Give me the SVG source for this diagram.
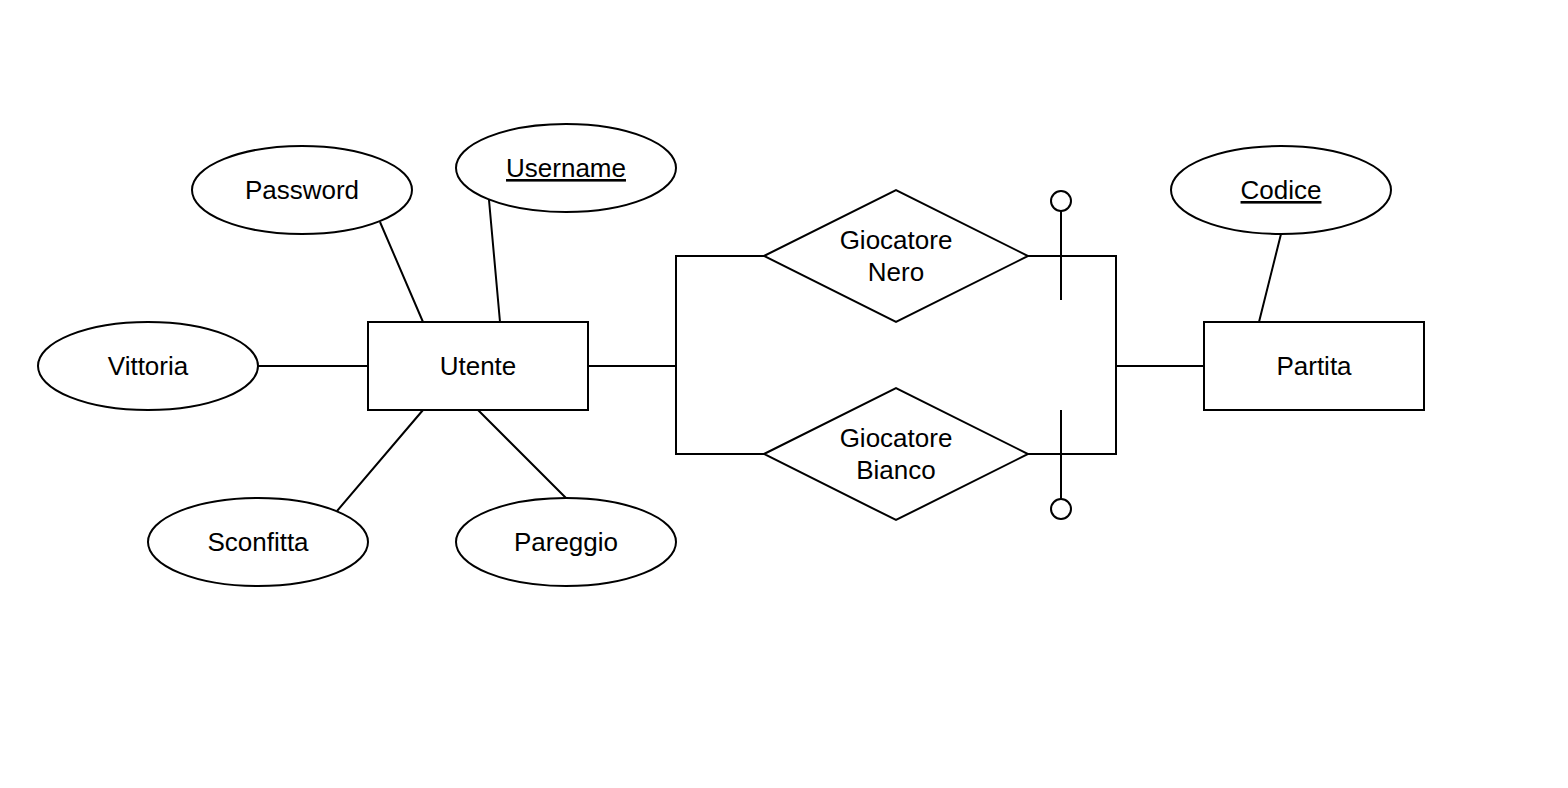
<svg xmlns="http://www.w3.org/2000/svg" width="1568" height="788" viewBox="0 0 1568 788">
<style>
.s{fill:#fff;stroke:#000;stroke-width:2}
.l{fill:none;stroke:#000;stroke-width:2}
text{font-family:"Liberation Sans",Arial,sans-serif;font-size:26px;fill:#000;text-anchor:middle}
.u{text-decoration:underline}
</style>
<rect width="1568" height="788" fill="#fff"/>
<g id="connectors">
<path class="l" d="M380,222 L423,322 M489,200 L500,322 M258,366 L368,366 M337,511 L423,410 M566,498 L478,410 M1281,234 L1259,322"/>
<path class="l" d="M588,366 H676 M764,256 H676 V454 H764"/>
<path class="l" d="M1028,256 H1116 V454 H1028 M1116,366 H1204"/>
<path class="l" d="M1061,211 V300 M1061,410 V499"/>
<circle class="s" cx="1061" cy="201" r="10"/>
<circle class="s" cx="1061" cy="509" r="10"/>
</g>
<g id="utente"><rect class="s" x="368" y="322" width="220" height="88"/><text x="478" y="375">Utente</text></g>
<g id="partita"><rect class="s" x="1204" y="322" width="220" height="88"/><text x="1314" y="375">Partita</text></g>
<g id="password"><ellipse class="s" cx="302" cy="190" rx="110" ry="44"/><text x="302" y="199">Password</text></g>
<g id="username"><ellipse class="s" cx="566" cy="168" rx="110" ry="44"/><text class="u" x="566" y="177">Username</text></g>
<g id="vittoria"><ellipse class="s" cx="148" cy="366" rx="110" ry="44"/><text x="148" y="375">Vittoria</text></g>
<g id="sconfitta"><ellipse class="s" cx="258" cy="542" rx="110" ry="44"/><text x="258" y="551">Sconfitta</text></g>
<g id="pareggio"><ellipse class="s" cx="566" cy="542" rx="110" ry="44"/><text x="566" y="551">Pareggio</text></g>
<g id="codice"><ellipse class="s" cx="1281" cy="190" rx="110" ry="44"/><text class="u" x="1281" y="199">Codice</text></g>
<g id="giocatore-nero"><polygon class="s" points="764,256 896,190 1028,256 896,322"/><text x="896" y="249">Giocatore</text><text x="896" y="281">Nero</text></g>
<g id="giocatore-bianco"><polygon class="s" points="764,454 896,388 1028,454 896,520"/><text x="896" y="447">Giocatore</text><text x="896" y="479">Bianco</text></g>
</svg>
